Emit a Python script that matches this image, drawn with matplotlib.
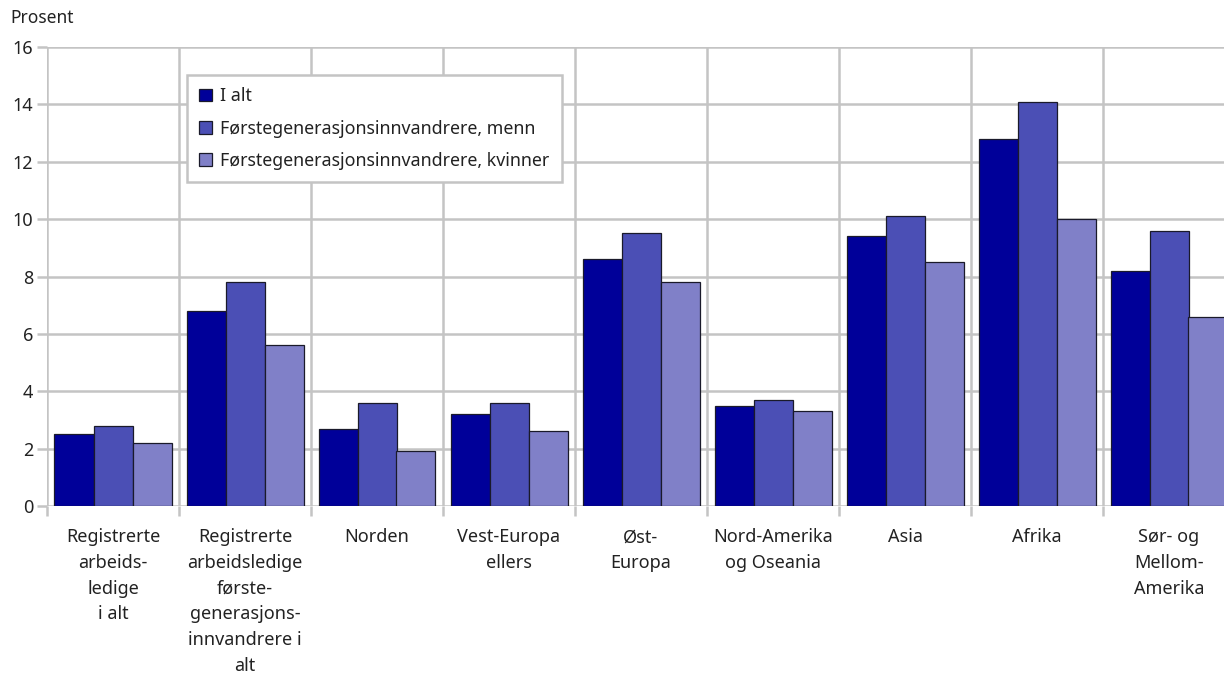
import numpy as np
import matplotlib.pyplot as plt
from matplotlib.ticker import MultipleLocator, FixedLocator, NullFormatter

plt.rcParams['font.family'] = ['Noto Sans', 'DejaVu Sans']

categories = [
    'Registrerte\narbeids-\nledige\ni alt',
    'Registrerte\narbeidsledige\nførste-\ngenerasjons-\ninnvandrere i\nalt',
    'Norden',
    'Vest-Europa\nellers',
    'Øst-\nEuropa',
    'Nord-Amerika\nog Oseania',
    'Asia',
    'Afrika',
    'Sør- og\nMellom-\nAmerika',
]
i_alt = [2.5, 6.8, 2.7, 3.2, 8.6, 3.5, 9.4, 12.8, 8.2]
menn = [2.8, 7.8, 3.6, 3.6, 9.5, 3.7, 10.1, 14.1, 9.6]
kvinner = [2.2, 5.6, 1.9, 2.6, 7.8, 3.3, 8.5, 10.0, 6.6]

series = [
    ('I alt', i_alt, '#000099'),
    ('Førstegenerasjonsinnvandrere, menn', menn, '#4b4fb5'),
    ('Førstegenerasjonsinnvandrere, kvinner', kvinner, '#8080c8'),
]

txt = '#222222'
grid = '#c4c4c4'

fig = plt.figure(figsize=(12.24, 6.75), dpi=100)
ax = fig.add_axes([47 / 1224, 1 - 506 / 675, 1188 / 1224, 459 / 675])

x = np.arange(len(categories))
w = 39 / 132
for i, (name, vals, col) in enumerate(series):
    ax.bar(x + (i - 1) * w, vals, w, color=col, edgecolor='#1a1a2a',
           linewidth=0.9, label=name, zorder=3)

ax.set_xlim(-0.5, len(categories) - 0.5)
ax.set_ylim(0, 16)
ax.yaxis.set_major_locator(MultipleLocator(2))
ax.xaxis.set_major_locator(FixedLocator(x))
ax.set_xticklabels(categories)
ax.xaxis.set_minor_locator(FixedLocator(np.arange(-0.5, len(categories), 1)))
ax.xaxis.set_minor_formatter(NullFormatter())

ax.grid(axis='y', color=grid, linewidth=1.8, zorder=0)
ax.grid(axis='x', which='minor', color=grid, linewidth=1.8, zorder=0)
ax.grid(axis='x', which='major', visible=False)
for s in ax.spines.values():
    s.set_visible(False)

ax.tick_params(axis='x', which='major', length=0, pad=16, labelsize=13,
               labelcolor=txt)
ax.tick_params(axis='x', which='minor', length=7, width=1.8, color=grid)
ax.tick_params(axis='y', length=7, width=1.8, color=grid, labelsize=13,
               labelcolor=txt, pad=3)
for lab in ax.get_xticklabels():
    lab.set_linespacing(1.55)
    lab.set_verticalalignment('top')

fig.text(10 / 1224, 1 - 18 / 675, 'Prosent', fontsize=12.5, color=txt,
         va='center', ha='left')

leg = ax.legend(loc='upper left', bbox_to_anchor=(140 / 1188, 1 - 28 / 459),
                borderaxespad=0, fontsize=12.8, fancybox=False, framealpha=1,
                edgecolor=grid, handlelength=0.7, handleheight=0.7,
                handletextpad=0.45, labelspacing=0.8, borderpad=0.7,
                labelcolor=txt)
leg.get_frame().set_linewidth(1.8)
leg.set_zorder(5)

fig.savefig('out.png', dpi=100)
